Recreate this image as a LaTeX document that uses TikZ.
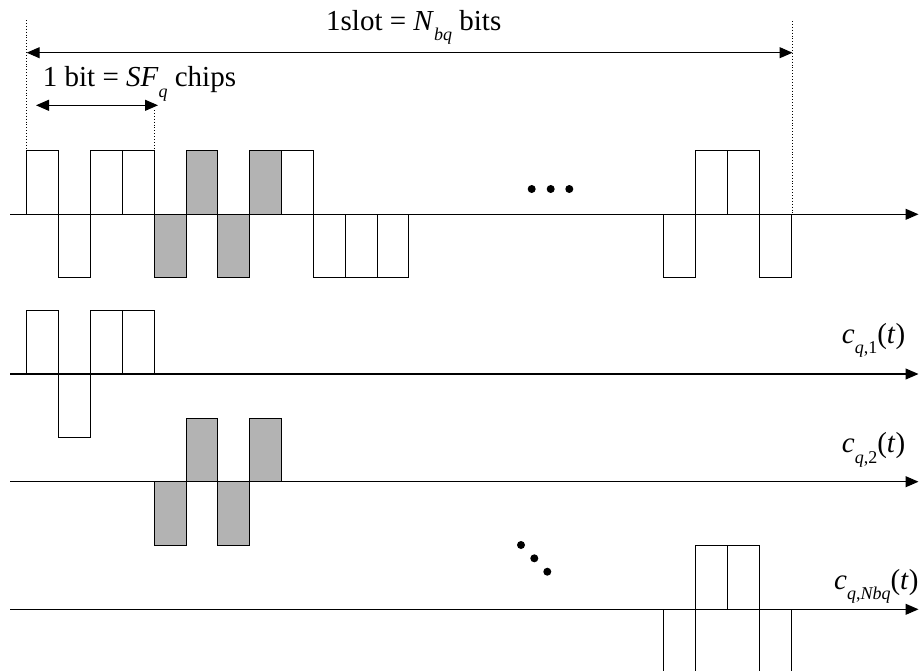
\documentclass[tikz,border=0pt]{standalone}
\usepackage{fontspec}
\setmainfont{Liberation Serif}
\usepackage{xcolor}
\usepackage{tikz}
\usetikzlibrary{arrows.meta, positioning}
\definecolor{chipgray}{RGB}{179,179,179}
\newcommand{\lowsub}[1]{\raisebox{-0.36em}{\fontsize{18pt}{18pt}\selectfont #1}}

\begin{document}
\begin{tikzpicture}[x=1pt, y=-1pt, >={Triangle[length=13pt,width=11pt]}]
        % Stijlen
        \tikzstyle{chip} = [draw=black, line width=0.9pt, fill=white]
        \tikzstyle{graychip} = [chip, fill=chipgray]
        \tikzstyle{tijdas} = [line width=1.1pt, ->]
        \tikzstyle{pijl} = [line width=1.1pt, <->]
        \tikzstyle{hulplijn} = [dotted, line width=0.9pt]
        \tikzstyle{tekst} = [inner sep=0pt, anchor=base west, font=\fontsize{29pt}{33pt}\selectfont]
        \tikzstyle{stip} = [circle, fill=black, inner sep=0pt, minimum size=8pt]

        \useasboundingbox (0,0) rectangle (920,670);
        \clip (0,0) rectangle (920,670);

        % Chips (index/teken)
        \foreach \i/\s in {0/1,1/-1,2/1,3/1,8/1,9/-1,10/-1,11/-1,20/-1,21/1,22/1,23/-1}
            \draw[chip] ({26.7+\i*31.85},214.3) rectangle ++(31.85,{-\s*63.5});
        \foreach \i/\s in {4/-1,5/1,6/-1,7/1}
            \draw[graychip] ({26.7+\i*31.85},214.3) rectangle ++(31.85,{-\s*63.5});
        \foreach \i/\s in {0/1,1/-1,2/1,3/1}
            \draw[chip] ({26.7+\i*31.85},374) rectangle ++(31.85,{-\s*63.5});
        \foreach \i/\s in {4/-1,5/1,6/-1,7/1}
            \draw[graychip] ({26.7+\i*31.85},481.7) rectangle ++(31.85,{-\s*63.5});
        \foreach \i/\s in {20/-1,21/1,22/1,23/-1}
            \draw[chip] ({26.7+\i*31.85},609.3) rectangle ++(31.85,{-\s*63.5});

        % Tijdassen
        \foreach \n/\y in {a/214.3, b/374, c/481.7, d/609.3} {
            \coordinate (start\n) at (10,\y);
            \coordinate (eind\n) at (918.5,\y);
            \draw[tijdas] (start\n) -- (eind\n);
        }

        % Hulplijnen en pijlen
        \coordinate (slotL) at (26.7,20);
        \coordinate (slotR) at (792.2,21);
        \coordinate (bitR) at (154,110);
        \draw[hulplijn] (slotL) -- (slotL |- starta);
        \draw[hulplijn] (slotR) -- (slotR |- starta);
        \draw[hulplijn] (bitR) -- (154,170);
        \coordinate (slotpijlL) at (26.7,52.7);
        \coordinate (slotpijlR) at (792.5,52.7);
        \coordinate (bitpijlL) at (36,105.3);
        \coordinate (bitpijlR) at (158,105.3);
        \draw[pijl] (slotpijlL) -- (slotpijlR);
        \draw[pijl] (bitpijlL) -- (bitpijlR);

        % Teksten
        \node (slotlabel) [tekst] at (326,30) {1slot = \textit{N}\lowsub{\textit{bq}} bits};
        \node (bitlabel) [tekst] at (42.7,86.7) {1 bit = \textit{SF}\lowsub{\textit{q}} chips};
        \node (labelA) [tekst] at (841.7,343.3) {\textit{c}\lowsub{\textit{q},1}(\textit{t})};
        \node (labelB) [tekst] at (841.7,452.7) {\textit{c}\lowsub{\textit{q},2}(\textit{t})};
        \node (labelC) [tekst] at (834,589.3) {\textit{c}\lowsub{\textit{q},\textit{Nbq}}(\textit{t})};

        % Stippen
        \foreach \x in {531.7, 550.7, 569.3}
            \node[stip] at (\x,189) {};
        \node (dotA) [stip] at (521,545) {};
        \node (dotB) [stip] at (534.3,558.3) {};
        \node (dotC) [stip] at (547.3,571.7) {};
\end{tikzpicture}
\end{document}
